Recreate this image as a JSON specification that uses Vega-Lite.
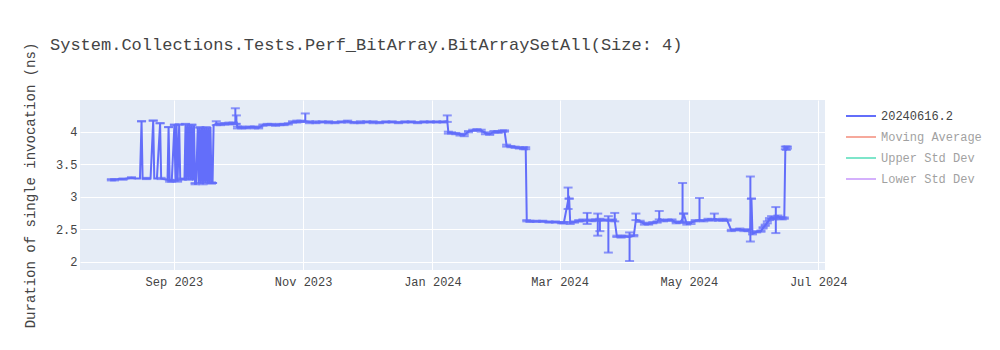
{
  "$schema": "https://vega.github.io/schema/vega-lite/v6.json",
  "width": 745,
  "height": 170,
  "autosize": {"type": "none"},
  "padding": {"left": 80, "top": 100, "right": 175, "bottom": 80},
  "background": "white",
  "title": {
    "text": "System.Collections.Tests.Perf_BitArray.BitArraySetAll(Size: 4)",
    "anchor": "start",
    "frame": "group",
    "dx": -30,
    "offset": -12,
    "font": "Liberation Mono",
    "fontSize": 17,
    "fontWeight": "normal",
    "color": "#444444"
  },
  "config": {
    "font": "Liberation Mono",
    "view": {"fill": "#e5ecf6", "stroke": null},
    "axis": {
      "domain": false,
      "ticks": false,
      "gridColor": "#ffffff",
      "gridWidth": 1,
      "gridOpacity": 1,
      "labelFont": "Liberation Mono",
      "labelFontSize": 12,
      "labelColor": "#444444",
      "titleFont": "Liberation Mono",
      "titleFontSize": 14,
      "titleFontWeight": "normal",
      "titleColor": "#444444"
    }
  },
  "data": {
    "values": [
      {"d": "2023-08-02T12:00", "v": 3.26, "lo": 3.25, "hi": 3.27},
      {"d": "2023-08-04T00:00", "v": 3.26, "lo": 3.25, "hi": 3.27},
      {"d": "2023-08-06T00:00", "v": 3.27},
      {"d": "2023-08-08T00:00", "v": 3.27, "lo": 3.26, "hi": 3.28},
      {"d": "2023-08-10T00:00", "v": 3.28},
      {"d": "2023-08-12T00:00", "v": 3.29, "lo": 3.28, "hi": 3.30},
      {"d": "2023-08-14T00:00", "v": 3.28},
      {"d": "2023-08-16T00:00", "v": 3.28},
      {"d": "2023-08-16T18:00", "v": 4.16, "lo": 4.16, "hi": 4.16},
      {"d": "2023-08-17T06:00", "v": 3.28},
      {"d": "2023-08-19T00:00", "v": 3.28, "lo": 3.27, "hi": 3.29},
      {"d": "2023-08-21T00:00", "v": 3.28},
      {"d": "2023-08-22T06:00", "v": 4.17, "lo": 4.17, "hi": 4.17},
      {"d": "2023-08-22T18:00", "v": 3.28},
      {"d": "2023-08-24T00:00", "v": 3.28},
      {"d": "2023-08-25T12:00", "v": 4.13, "lo": 4.13, "hi": 4.13},
      {"d": "2023-08-26T00:00", "v": 3.28, "lo": 3.27, "hi": 3.29},
      {"d": "2023-08-27T00:00", "v": 3.27},
      {"d": "2023-08-29T00:00", "v": 3.26},
      {"d": "2023-08-29T12:00", "v": 4.07, "lo": 4.07, "hi": 4.07},
      {"d": "2023-08-30T00:00", "v": 3.25, "lo": 3.23, "hi": 3.26},
      {"d": "2023-08-31T00:00", "v": 3.24, "lo": 3.23, "hi": 3.25},
      {"d": "2023-09-01T06:00", "v": 4.10, "lo": 4.10, "hi": 4.11},
      {"d": "2023-09-01T18:00", "v": 3.23},
      {"d": "2023-09-02T06:00", "v": 4.11},
      {"d": "2023-09-02T18:00", "v": 3.24, "lo": 3.23, "hi": 3.25},
      {"d": "2023-09-03T12:00", "v": 4.11, "lo": 4.11, "hi": 4.11},
      {"d": "2023-09-04T00:00", "v": 3.27},
      {"d": "2023-09-05T00:00", "v": 3.27, "lo": 3.26, "hi": 3.28},
      {"d": "2023-09-06T00:00", "v": 3.27},
      {"d": "2023-09-06T12:00", "v": 4.11, "lo": 4.11, "hi": 4.12},
      {"d": "2023-09-07T00:00", "v": 3.27},
      {"d": "2023-09-07T12:00", "v": 4.11},
      {"d": "2023-09-08T00:00", "v": 3.26, "lo": 3.26, "hi": 3.27},
      {"d": "2023-09-08T12:00", "v": 4.11},
      {"d": "2023-09-09T00:00", "v": 3.26},
      {"d": "2023-09-09T12:00", "v": 4.10, "lo": 4.10, "hi": 4.11},
      {"d": "2023-09-10T00:00", "v": 3.25},
      {"d": "2023-09-10T12:00", "v": 4.10},
      {"d": "2023-09-11T00:00", "v": 3.20, "lo": 3.19, "hi": 3.21},
      {"d": "2023-09-11T12:00", "v": 3.20},
      {"d": "2023-09-12T06:00", "v": 4.06},
      {"d": "2023-09-12T18:00", "v": 3.21},
      {"d": "2023-09-13T06:00", "v": 4.06, "lo": 4.06, "hi": 4.07},
      {"d": "2023-09-13T18:00", "v": 3.20},
      {"d": "2023-09-14T06:00", "v": 4.06},
      {"d": "2023-09-14T18:00", "v": 3.20, "lo": 3.19, "hi": 3.21},
      {"d": "2023-09-15T06:00", "v": 4.06},
      {"d": "2023-09-15T18:00", "v": 3.21},
      {"d": "2023-09-16T06:00", "v": 4.07, "lo": 4.06, "hi": 4.07},
      {"d": "2023-09-16T18:00", "v": 3.20},
      {"d": "2023-09-17T06:00", "v": 4.06},
      {"d": "2023-09-17T18:00", "v": 3.21},
      {"d": "2023-09-18T06:00", "v": 4.07},
      {"d": "2023-09-18T18:00", "v": 3.21, "lo": 3.20, "hi": 3.22},
      {"d": "2023-09-19T06:00", "v": 3.21, "lo": 3.21, "hi": 3.21},
      {"d": "2023-09-19T18:00", "v": 4.10},
      {"d": "2023-09-21T00:00", "v": 4.12, "lo": 4.10, "hi": 4.16},
      {"d": "2023-09-23T00:00", "v": 4.11, "lo": 4.10, "hi": 4.13},
      {"d": "2023-09-25T00:00", "v": 4.12, "lo": 4.11, "hi": 4.13},
      {"d": "2023-09-27T00:00", "v": 4.12, "lo": 4.11, "hi": 4.14},
      {"d": "2023-09-29T00:00", "v": 4.13, "lo": 4.12, "hi": 4.14},
      {"d": "2023-09-30T00:00", "v": 4.14, "lo": 4.12, "hi": 4.36},
      {"d": "2023-09-30T12:00", "v": 4.14, "lo": 4.12, "hi": 4.25},
      {"d": "2023-10-01T00:00", "v": 4.07, "lo": 4.05, "hi": 4.08},
      {"d": "2023-10-03T00:00", "v": 4.06, "lo": 4.05, "hi": 4.08},
      {"d": "2023-10-05T00:00", "v": 4.06, "lo": 4.05, "hi": 4.07},
      {"d": "2023-10-07T00:00", "v": 4.07, "lo": 4.06, "hi": 4.08},
      {"d": "2023-10-09T00:00", "v": 4.07, "lo": 4.05, "hi": 4.08},
      {"d": "2023-10-11T00:00", "v": 4.06, "lo": 4.05, "hi": 4.07},
      {"d": "2023-10-13T00:00", "v": 4.10, "lo": 4.09, "hi": 4.11},
      {"d": "2023-10-15T00:00", "v": 4.11, "lo": 4.10, "hi": 4.12},
      {"d": "2023-10-17T00:00", "v": 4.11, "lo": 4.10, "hi": 4.12},
      {"d": "2023-10-19T00:00", "v": 4.10, "lo": 4.09, "hi": 4.11},
      {"d": "2023-10-21T00:00", "v": 4.11, "lo": 4.10, "hi": 4.12},
      {"d": "2023-10-23T00:00", "v": 4.11, "lo": 4.10, "hi": 4.12},
      {"d": "2023-10-25T00:00", "v": 4.12, "lo": 4.11, "hi": 4.13},
      {"d": "2023-10-27T00:00", "v": 4.15, "lo": 4.14, "hi": 4.16},
      {"d": "2023-10-29T00:00", "v": 4.15, "lo": 4.14, "hi": 4.17},
      {"d": "2023-10-31T00:00", "v": 4.16, "lo": 4.15, "hi": 4.17},
      {"d": "2023-11-02T00:00", "v": 4.16, "lo": 4.15, "hi": 4.28},
      {"d": "2023-11-04T00:00", "v": 4.15, "lo": 4.13, "hi": 4.16},
      {"d": "2023-11-07T00:00", "v": 4.14, "lo": 4.13, "hi": 4.16},
      {"d": "2023-11-10T00:00", "v": 4.15, "lo": 4.14, "hi": 4.16},
      {"d": "2023-11-13T00:00", "v": 4.15, "lo": 4.13, "hi": 4.16},
      {"d": "2023-11-16T00:00", "v": 4.14, "lo": 4.13, "hi": 4.15},
      {"d": "2023-11-19T00:00", "v": 4.15, "lo": 4.14, "hi": 4.16},
      {"d": "2023-11-22T00:00", "v": 4.16, "lo": 4.14, "hi": 4.17},
      {"d": "2023-11-25T00:00", "v": 4.14, "lo": 4.13, "hi": 4.15},
      {"d": "2023-11-28T00:00", "v": 4.14, "lo": 4.13, "hi": 4.16},
      {"d": "2023-12-01T00:00", "v": 4.15, "lo": 4.14, "hi": 4.16},
      {"d": "2023-12-04T00:00", "v": 4.15, "lo": 4.13, "hi": 4.16},
      {"d": "2023-12-07T00:00", "v": 4.14, "lo": 4.13, "hi": 4.15},
      {"d": "2023-12-10T00:00", "v": 4.15, "lo": 4.14, "hi": 4.16},
      {"d": "2023-12-13T00:00", "v": 4.15, "lo": 4.14, "hi": 4.16},
      {"d": "2023-12-16T00:00", "v": 4.14, "lo": 4.13, "hi": 4.15},
      {"d": "2023-12-19T00:00", "v": 4.15, "lo": 4.14, "hi": 4.16},
      {"d": "2023-12-22T00:00", "v": 4.15, "lo": 4.14, "hi": 4.16},
      {"d": "2023-12-25T00:00", "v": 4.14, "lo": 4.13, "hi": 4.15},
      {"d": "2023-12-28T00:00", "v": 4.15, "lo": 4.14, "hi": 4.16},
      {"d": "2023-12-31T00:00", "v": 4.15, "lo": 4.14, "hi": 4.16},
      {"d": "2024-01-03T00:00", "v": 4.15, "lo": 4.14, "hi": 4.16},
      {"d": "2024-01-06T00:00", "v": 4.15, "lo": 4.14, "hi": 4.16},
      {"d": "2024-01-08T00:00", "v": 4.16, "lo": 4.15, "hi": 4.25},
      {"d": "2024-01-08T12:00", "v": 3.99, "lo": 3.97, "hi": 4.00},
      {"d": "2024-01-10T00:00", "v": 3.98, "lo": 3.97, "hi": 3.99},
      {"d": "2024-01-12T00:00", "v": 3.97, "lo": 3.96, "hi": 3.98},
      {"d": "2024-01-14T00:00", "v": 3.96, "lo": 3.94, "hi": 3.97},
      {"d": "2024-01-16T00:00", "v": 3.95, "lo": 3.93, "hi": 3.96},
      {"d": "2024-01-18T00:00", "v": 4.00, "lo": 3.99, "hi": 4.01},
      {"d": "2024-01-20T00:00", "v": 4.02, "lo": 4.01, "hi": 4.03},
      {"d": "2024-01-22T00:00", "v": 4.03, "lo": 4.02, "hi": 4.04},
      {"d": "2024-01-24T00:00", "v": 4.02, "lo": 4.00, "hi": 4.03},
      {"d": "2024-01-26T00:00", "v": 3.98, "lo": 3.96, "hi": 3.99},
      {"d": "2024-01-28T00:00", "v": 3.96, "lo": 3.95, "hi": 3.97},
      {"d": "2024-01-30T00:00", "v": 4.00, "lo": 3.99, "hi": 4.01},
      {"d": "2024-02-01T00:00", "v": 3.99, "lo": 3.98, "hi": 4.01},
      {"d": "2024-02-03T00:00", "v": 4.01, "lo": 4.00, "hi": 4.02},
      {"d": "2024-02-04T00:00", "v": 4.01, "lo": 4.00, "hi": 4.02},
      {"d": "2024-02-05T00:00", "v": 3.78, "lo": 3.77, "hi": 3.80},
      {"d": "2024-02-07T00:00", "v": 3.77, "lo": 3.76, "hi": 3.78},
      {"d": "2024-02-09T00:00", "v": 3.76, "lo": 3.75, "hi": 3.77},
      {"d": "2024-02-11T00:00", "v": 3.75, "lo": 3.74, "hi": 3.76},
      {"d": "2024-02-13T00:00", "v": 3.74, "lo": 3.73, "hi": 3.76},
      {"d": "2024-02-14T00:00", "v": 3.75, "lo": 3.73, "hi": 3.76},
      {"d": "2024-02-14T12:00", "v": 2.63, "lo": 2.62, "hi": 2.64},
      {"d": "2024-02-16T00:00", "v": 2.62, "lo": 2.61, "hi": 2.63},
      {"d": "2024-02-19T00:00", "v": 2.62, "lo": 2.61, "hi": 2.63},
      {"d": "2024-02-22T00:00", "v": 2.62, "lo": 2.61, "hi": 2.63},
      {"d": "2024-02-25T00:00", "v": 2.61, "lo": 2.60, "hi": 2.62},
      {"d": "2024-02-28T00:00", "v": 2.61, "lo": 2.60, "hi": 2.62},
      {"d": "2024-03-02T00:00", "v": 2.60, "lo": 2.59, "hi": 2.61},
      {"d": "2024-03-03T00:00", "v": 2.60, "lo": 2.59, "hi": 2.61},
      {"d": "2024-03-05T00:00", "v": 2.94, "lo": 2.81, "hi": 3.14},
      {"d": "2024-03-05T12:00", "v": 2.97, "lo": 2.97, "hi": 2.97},
      {"d": "2024-03-06T00:00", "v": 2.60, "lo": 2.58, "hi": 2.61},
      {"d": "2024-03-08T00:00", "v": 2.61, "lo": 2.60, "hi": 2.62},
      {"d": "2024-03-10T00:00", "v": 2.63, "lo": 2.62, "hi": 2.64},
      {"d": "2024-03-12T00:00", "v": 2.63, "lo": 2.62, "hi": 2.65},
      {"d": "2024-03-14T00:00", "v": 2.64, "lo": 2.58, "hi": 2.75},
      {"d": "2024-03-16T00:00", "v": 2.63, "lo": 2.62, "hi": 2.65},
      {"d": "2024-03-18T00:00", "v": 2.64, "lo": 2.63, "hi": 2.65},
      {"d": "2024-03-19T00:00", "v": 2.63, "lo": 2.40, "hi": 2.74},
      {"d": "2024-03-20T00:00", "v": 2.63, "lo": 2.47, "hi": 2.66},
      {"d": "2024-03-22T00:00", "v": 2.64, "lo": 2.63, "hi": 2.65},
      {"d": "2024-03-24T00:00", "v": 2.63, "lo": 2.14, "hi": 2.70},
      {"d": "2024-03-26T00:00", "v": 2.64, "lo": 2.63, "hi": 2.65},
      {"d": "2024-03-27T00:00", "v": 2.63, "lo": 2.62, "hi": 2.75},
      {"d": "2024-03-28T00:00", "v": 2.39, "lo": 2.38, "hi": 2.40},
      {"d": "2024-03-30T00:00", "v": 2.38, "lo": 2.37, "hi": 2.40},
      {"d": "2024-04-01T00:00", "v": 2.39, "lo": 2.38, "hi": 2.40},
      {"d": "2024-04-03T00:00", "v": 2.38, "lo": 2.01, "hi": 2.45},
      {"d": "2024-04-05T00:00", "v": 2.40, "lo": 2.39, "hi": 2.41},
      {"d": "2024-04-06T00:00", "v": 2.65, "lo": 2.64, "hi": 2.74},
      {"d": "2024-04-08T00:00", "v": 2.62, "lo": 2.61, "hi": 2.63},
      {"d": "2024-04-10T00:00", "v": 2.58, "lo": 2.57, "hi": 2.60},
      {"d": "2024-04-12T00:00", "v": 2.58, "lo": 2.57, "hi": 2.59},
      {"d": "2024-04-14T00:00", "v": 2.60, "lo": 2.59, "hi": 2.61},
      {"d": "2024-04-16T00:00", "v": 2.61, "lo": 2.60, "hi": 2.62},
      {"d": "2024-04-17T00:00", "v": 2.66, "lo": 2.65, "hi": 2.78},
      {"d": "2024-04-19T00:00", "v": 2.63, "lo": 2.62, "hi": 2.64},
      {"d": "2024-04-21T00:00", "v": 2.64, "lo": 2.63, "hi": 2.65},
      {"d": "2024-04-23T00:00", "v": 2.64, "lo": 2.63, "hi": 2.65},
      {"d": "2024-04-25T00:00", "v": 2.60, "lo": 2.59, "hi": 2.61},
      {"d": "2024-04-27T00:00", "v": 2.61, "lo": 2.60, "hi": 2.62},
      {"d": "2024-04-28T00:00", "v": 2.66, "lo": 2.60, "hi": 3.21},
      {"d": "2024-04-28T12:00", "v": 2.74, "lo": 2.74, "hi": 2.74},
      {"d": "2024-04-30T00:00", "v": 2.58, "lo": 2.57, "hi": 2.60},
      {"d": "2024-05-02T00:00", "v": 2.60, "lo": 2.58, "hi": 2.61},
      {"d": "2024-05-04T00:00", "v": 2.63, "lo": 2.62, "hi": 2.64},
      {"d": "2024-05-06T00:00", "v": 2.64, "lo": 2.63, "hi": 2.98},
      {"d": "2024-05-08T00:00", "v": 2.63, "lo": 2.62, "hi": 2.64},
      {"d": "2024-05-10T00:00", "v": 2.65, "lo": 2.64, "hi": 2.66},
      {"d": "2024-05-12T00:00", "v": 2.64, "lo": 2.63, "hi": 2.65},
      {"d": "2024-05-13T00:00", "v": 2.66, "lo": 2.65, "hi": 2.74},
      {"d": "2024-05-15T00:00", "v": 2.64, "lo": 2.63, "hi": 2.65},
      {"d": "2024-05-17T00:00", "v": 2.64, "lo": 2.63, "hi": 2.66},
      {"d": "2024-05-19T00:00", "v": 2.64, "lo": 2.63, "hi": 2.65},
      {"d": "2024-05-21T00:00", "v": 2.48, "lo": 2.47, "hi": 2.49},
      {"d": "2024-05-23T00:00", "v": 2.49, "lo": 2.48, "hi": 2.50},
      {"d": "2024-05-25T00:00", "v": 2.50, "lo": 2.49, "hi": 2.51},
      {"d": "2024-05-27T00:00", "v": 2.48, "lo": 2.47, "hi": 2.49},
      {"d": "2024-05-29T00:00", "v": 2.48, "lo": 2.47, "hi": 2.50},
      {"d": "2024-05-30T00:00", "v": 2.50, "lo": 2.31, "hi": 3.31},
      {"d": "2024-05-30T12:00", "v": 2.97, "lo": 2.97, "hi": 2.97},
      {"d": "2024-05-31T00:00", "v": 2.43, "lo": 2.42, "hi": 2.45},
      {"d": "2024-06-02T00:00", "v": 2.46, "lo": 2.45, "hi": 2.47},
      {"d": "2024-06-04T00:00", "v": 2.47, "lo": 2.46, "hi": 2.48},
      {"d": "2024-06-05T00:00", "v": 2.52, "lo": 2.51, "hi": 2.53},
      {"d": "2024-06-06T00:00", "v": 2.56, "lo": 2.55, "hi": 2.57},
      {"d": "2024-06-07T00:00", "v": 2.60, "lo": 2.59, "hi": 2.62},
      {"d": "2024-06-08T00:00", "v": 2.65, "lo": 2.64, "hi": 2.67},
      {"d": "2024-06-09T00:00", "v": 2.68, "lo": 2.66, "hi": 2.70},
      {"d": "2024-06-10T00:00", "v": 2.66, "lo": 2.65, "hi": 2.68},
      {"d": "2024-06-11T00:00", "v": 2.66, "lo": 2.44, "hi": 2.84},
      {"d": "2024-06-12T00:00", "v": 2.70, "lo": 2.68, "hi": 2.71},
      {"d": "2024-06-13T00:00", "v": 2.67, "lo": 2.66, "hi": 2.69},
      {"d": "2024-06-14T00:00", "v": 2.66, "lo": 2.65, "hi": 2.68},
      {"d": "2024-06-15T00:00", "v": 2.67, "lo": 2.66, "hi": 2.68},
      {"d": "2024-06-15T12:00", "v": 3.75, "lo": 3.73, "hi": 3.77},
      {"d": "2024-06-16T00:00", "v": 3.73, "lo": 3.72, "hi": 3.77},
      {"d": "2024-06-16T12:00", "v": 3.76, "lo": 3.74, "hi": 3.77}
    ]
  },
  "encoding": {
    "x": {
      "field": "d",
      "type": "temporal",
      "title": null,
      "scale": {
        "domain": [
          {"year": 2023, "month": 7, "date": 18, "hours": 17},
          {"year": 2024, "month": 7, "date": 4, "hours": 5}
        ]
      },
      "axis": {
        "format": "%b %Y",
        "labelPadding": 6,
        "labelFlush": false,
        "values": [
          {"year": 2023, "month": 9, "date": 1},
          {"year": 2023, "month": 11, "date": 1},
          {"year": 2024, "month": 1, "date": 1},
          {"year": 2024, "month": 3, "date": 1},
          {"year": 2024, "month": 5, "date": 1},
          {"year": 2024, "month": 7, "date": 1}
        ]
      }
    }
  },
  "layer": [
    {
      "mark": {"type": "line", "strokeWidth": 2, "interpolate": "linear"},
      "encoding": {
        "y": {
          "field": "v",
          "type": "quantitative",
          "title": "Duration of single invocation (ns)",
          "scale": {"domain": [1.872, 4.487], "nice": false, "zero": false},
          "axis": {"values": [2, 2.5, 3, 3.5, 4], "format": "~g", "labelPadding": 3, "titlePadding": 18}
        },
        "color": {
          "datum": "20240616.2",
          "type": "nominal",
          "scale": {
            "domain": ["20240616.2", "Moving Average", "Upper Std Dev", "Lower Std Dev"],
            "range": ["#636efa", "#EF553B", "#00cc96", "#ab63fa"]
          },
          "legend": {
            "title": null,
            "orient": "none",
            "legendX": 775,
            "legendY": 10,
            "symbolType": "M-3,0H3",
            "symbolSize": 100,
            "symbolStrokeWidth": 2,
            "labelFont": "Liberation Mono",
            "labelFontSize": 12,
            "labelColor": "#444444",
            "labelOffset": 14,
            "rowPadding": 9,
            "encode": {
              "symbols": {"update": {"opacity": {"signal": "datum.value === '20240616.2' ? 1 : 0.5"}}},
              "labels": {"update": {"opacity": {"signal": "datum.value === '20240616.2' ? 1 : 0.5"}}}
            }
          }
        }
      }
    },
    {
      "transform": [{"filter": "isValid(datum.hi)"}],
      "mark": {"type": "rule", "strokeWidth": 2, "color": "#636efa"},
      "encoding": {
        "y": {"field": "lo", "type": "quantitative"},
        "y2": {"field": "hi"}
      }
    },
    {
      "transform": [{"filter": "isValid(datum.hi)"}],
      "mark": {"type": "tick", "orient": "horizontal", "size": 9, "thickness": 2, "color": "#636efa"},
      "encoding": {"y": {"field": "hi", "type": "quantitative"}}
    },
    {
      "transform": [{"filter": "isValid(datum.lo)"}],
      "mark": {"type": "tick", "orient": "horizontal", "size": 9, "thickness": 2, "color": "#636efa"},
      "encoding": {"y": {"field": "lo", "type": "quantitative"}}
    }
  ]
}
